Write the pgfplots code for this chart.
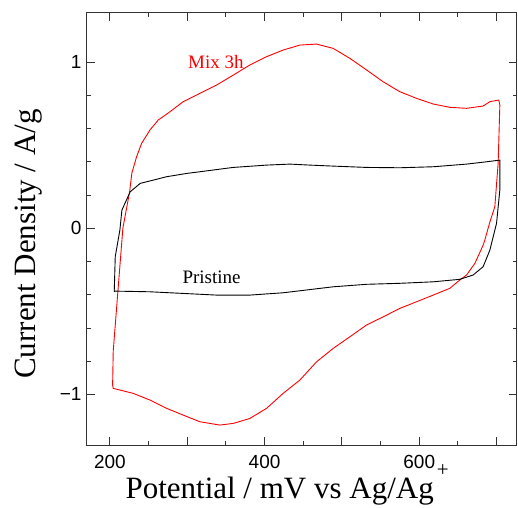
\documentclass[border=0pt]{standalone}
\usepackage{fontspec}
\setmainfont{Liberation Serif}
\newfontfamily\tickfont{Liberation Sans}
\usepackage{pgfplots}
\pgfplotsset{compat=1.18}
\definecolor{framegray}{HTML}{333333}
\begin{document}
\begin{tikzpicture}
\path[use as bounding box] (0,0) rectangle (518pt,507pt);
\begin{axis}[
  at={(86.7pt,62pt)}, anchor=south west,
  scale only axis, width=430pt, height=432.3pt,
  xmin=170, xmax=726, ymin=-1.305, ymax=1.299,
  axis line style={framegray, line width=0.9pt},
  tick style={framegray, line width=0.9pt},
  major tick length=8pt, minor tick length=4pt,
  tick align=inside,
  xtick={200,300,...,700}, xticklabels={200,,400,,600,},
  minor x tick num=1,
  ytick={-1,0,1}, yticklabels={−1,0,1},
  minor y tick num=4,
  xticklabel style={font=\tickfont\fontsize{19}{19}\selectfont, inner sep=0pt, anchor=north, yshift=-10pt},
  yticklabel style={font=\tickfont\fontsize{19}{19}\selectfont, inner sep=0pt, anchor=east, xshift=-5pt},
  xlabel={Potential / mV vs Ag/Ag\hspace{3pt}\raisebox{22pt}{\fontsize{21}{21}\selectfont+}},
  ylabel={Current Density / A/g},
  xlabel style={font=\fontsize{31}{31}\selectfont, inner sep=0pt, anchor=base, at={(axis description cs:0.466,-0.123)}},
  ylabel style={font=\fontsize{31}{31}\selectfont, inner sep=0pt, anchor=south, at={(axis description cs:-0.104,0.465)}},
  clip=false,
]
\addplot[red, line width=0.9pt] coordinates {
(203.5,-0.944) (204.3,-0.739) (210.3,-0.382) (216.8,0.002) (225.5,0.220) (228.4,0.333)
(234.5,0.431) (241.0,0.512) (251.7,0.592) (262.4,0.652) (277.6,0.702) (294.8,0.763)
(316.4,0.813) (337.9,0.863) (359.4,0.923) (381.0,0.984) (402.6,1.034) (424.0,1.074)
(445.6,1.104) (467.2,1.110) (488.7,1.084) (510.3,1.024) (531.9,0.954) (553.3,0.883)
(574.9,0.823) (596.5,0.783) (618.0,0.749) (639.6,0.729) (661.2,0.723) (682.6,0.737)
(691.3,0.763) (702.9,0.773) (704.2,0.742) (702.0,0.392) (697.7,0.130) (691.3,0.038)
(684.8,-0.070) (682.6,-0.101) (671.9,-0.211) (661.2,-0.281) (652.5,-0.311) (639.6,-0.361)
(618.0,-0.402) (596.5,-0.442) (574.9,-0.482) (553.3,-0.533) (531.9,-0.582) (510.3,-0.653)
(488.7,-0.723) (467.2,-0.804) (445.6,-0.914) (424.0,-0.994) (402.6,-1.084) (381.0,-1.145)
(359.4,-1.175) (342.2,-1.185) (316.4,-1.165) (294.8,-1.125) (273.3,-1.084) (251.7,-1.034)
(230.1,-0.994) (212.9,-0.974) (204.3,-0.964) (203.5,-0.944)
};
\addplot[black, line width=0.9pt] coordinates {
(205.6,-0.382) (206.9,-0.171) (212.9,-0.010) (215.5,0.110) (226.2,0.220) (239.2,0.271)
(256.5,0.291) (273.3,0.311) (299.5,0.331) (316.4,0.341) (359.4,0.367) (402.6,0.381)
(432.7,0.387) (458.6,0.381) (488.7,0.375) (531.9,0.367) (574.9,0.365) (618.0,0.371)
(661.2,0.387) (687.0,0.401) (704.2,0.411) (704.2,0.231) (699.9,0.030) (691.3,-0.131)
(682.6,-0.231) (669.7,-0.281) (652.5,-0.307) (618.0,-0.322) (574.9,-0.331) (531.9,-0.337)
(488.7,-0.352) (445.6,-0.376) (424.0,-0.388) (381.0,-0.402) (337.9,-0.402) (294.8,-0.392)
(251.7,-0.382) (206.5,-0.378) (205.6,-0.382)
};
\node[red, font=\fontsize{19}{19}\selectfont, inner sep=0pt] at (axis cs:337,1.005) {Mix 3h};
\node[black, font=\fontsize{19}{19}\selectfont, inner sep=0pt] at (axis cs:331.5,-0.296) {Pristine};
\end{axis}
\end{tikzpicture}
\end{document}
